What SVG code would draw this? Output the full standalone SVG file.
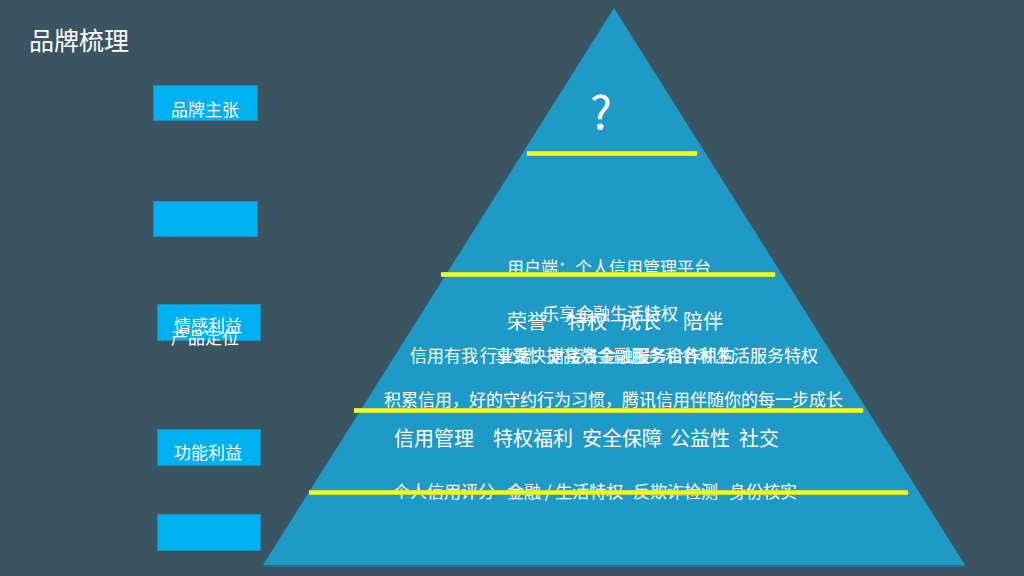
<svg xmlns="http://www.w3.org/2000/svg" width="1024" height="576" viewBox="0 0 1024 576">
<style>
text{font-family:"Noto Sans CJK SC","Liberation Sans",sans-serif;fill:#FFFFFF}
.box{fill:#00B0F0;stroke:#1C8DBA;stroke-width:1}
.t17{font-size:17px}
.t20{font-size:20px}
.arrow{stroke:#FFFF00;stroke-width:3;fill:none;marker-end:url(#ah)}
.arrowedge{stroke:#C8E04A;stroke-width:5;fill:none}
</style>
<defs>
<marker id="ah" markerWidth="6" markerHeight="6" refX="4" refY="3" orient="auto" markerUnits="userSpaceOnUse">
<path d="M0,0.5 L5,3 L0,5.5 Z" fill="#FFFF00"/>
</marker>
</defs>
<rect width="1024" height="576" fill="#3A5561"/>
<text x="29" y="50" style="font-size:25px">品牌梳理</text>
<g id="pyramid">
<polygon points="614,10 263,567 966,567" fill="#1B6E90"/>
<polygon points="614,8 263,565 965,565" fill="#1F9AC6"/>
</g>
<g id="box-brand"><rect class="box" x="153.5" y="85.5" width="104" height="35"/><text class="t17" x="171" y="116">品牌主张</text></g>
<g id="box-2"><rect class="box" x="153.5" y="201.5" width="104" height="35"/></g>
<g id="box-emotion"><rect class="box" x="157.5" y="304.5" width="103" height="36"/><text class="t17" x="174" y="332">情感利益</text><text class="t17" x="171" y="344">产品定位</text></g>
<g id="box-function"><rect class="box" x="157.5" y="429.5" width="103" height="36"/><text class="t17" x="174" y="459">功能利益</text></g>
<g id="box-5"><rect class="box" x="157.5" y="514.5" width="103" height="36"/></g>
<g id="level-texts">
<text x="590" y="129" style="font-size:46px">?</text>
<text class="t17" x="507" y="274">用户端：个人信用管理平台</text>
<text class="t20" x="507" y="329">荣誉</text>
<text class="t20" x="567" y="329">特权</text>
<text class="t20" x="621" y="329">成长</text>
<text class="t20" x="683" y="329">陪伴</text>
<text class="t17" x="542" y="320">乐享金融生活特权</text>
<text class="t17" y="362"><tspan x="410">信用有我</tspan><tspan x="495">享受快捷高效金融服务和各种生活服务特权</tspan></text>
<text class="t17" x="480" y="362">行业端：对接各金融服务合作机构</text>
<text class="t17" x="384" y="406">积累信用，好的守约行为习惯，腾讯信用伴随你的每一步成长</text>
<text class="t20" x="394" y="446">信用管理</text>
<text class="t20" x="493" y="446">特权福利</text>
<text class="t20" x="582" y="446">安全保障</text>
<text class="t20" x="670" y="446">公益性</text>
<text class="t20" x="739" y="446">社交</text>
<text class="t17" y="498"><tspan x="393">个人信用评分</tspan><tspan x="507">金融 / 生活特权</tspan><tspan x="633">反欺诈检测</tspan><tspan x="729">身份核实</tspan></text>
</g>
<g id="connectors">
<line class="arrowedge" x1="527" y1="153.5" x2="697" y2="153.5"/>
<line class="arrow" x1="527" y1="153.5" x2="697" y2="153.5"/>
<line class="arrowedge" x1="441" y1="274.5" x2="775" y2="274.5"/>
<line class="arrow" x1="441" y1="274.5" x2="775" y2="274.5"/>
<line class="arrowedge" x1="354" y1="410.5" x2="863" y2="410.5"/>
<line class="arrow" x1="354" y1="410.5" x2="863" y2="410.5"/>
<line class="arrowedge" x1="309" y1="492.5" x2="908" y2="492.5"/>
<line class="arrow" x1="309" y1="492.5" x2="908" y2="492.5"/>
</g>
</svg>
